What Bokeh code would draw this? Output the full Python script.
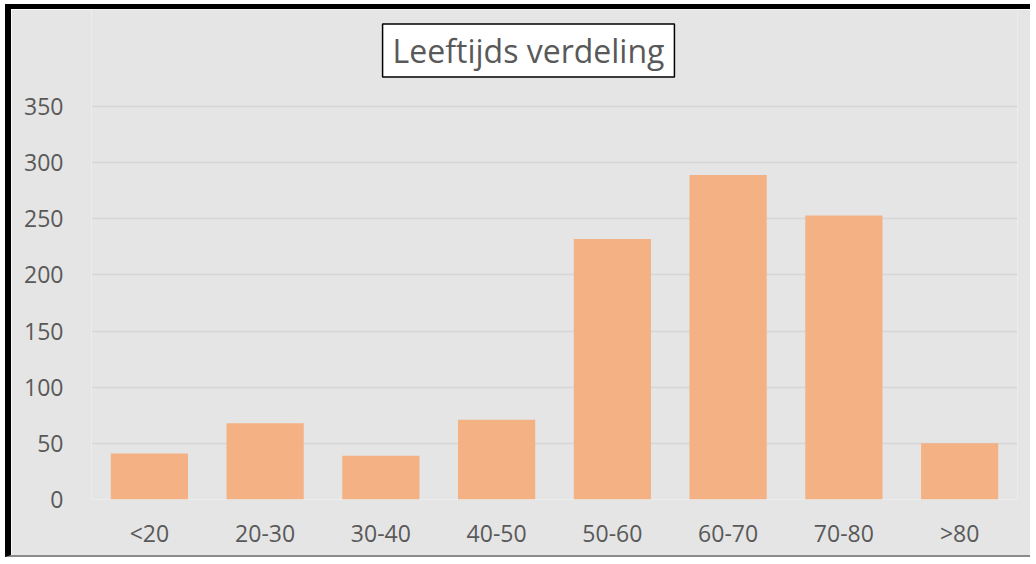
from bokeh.plotting import figure
from bokeh.models import ColumnDataSource, FixedTicker, Label, Range1d, FactorRange
from bokeh.embed import file_html
from bokeh.resources import INLINE

categories = ["<20", "20-30", "30-40", "40-50", "50-60", "60-70", "70-80", ">80"]
counts = [41, 68, 39, 71, 232, 289, 253, 50]
y_ticks = [0, 50, 100, 150, 200, 250, 300, 350]
title_text = "Leeftijds verdeling"

FONT = "Open Sans"
TEXT_COLOR = "#595959"
BG = "#e5e5e5"

source = ColumnDataSource(data=dict(cat=categories, count=counts))

p = figure(
    x_range=FactorRange(*categories, range_padding=0.0),
    y_range=Range1d(0, 436.4),
    width=1025, height=553,
    output_backend="svg", toolbar_location=None,
    min_border_left=80, min_border_right=19, min_border_top=0, min_border_bottom=63,
)
p.styles = {
    "margin-left": "5px", "margin-top": "4px",
    "border-left": "6px solid black", "border-top": "5px solid black",
    "border-bottom": "2px solid #8a8a8a",
}

p.vbar(x="cat", top="count", width=0.667, source=source, fill_color="#f4b183", line_color=None)

p.background_fill_color = BG
p.border_fill_color = BG
p.outline_line_color = None

p.xgrid.grid_line_color = None
p.ygrid.grid_line_color = "#d6d6d6"
p.ygrid.grid_line_width = 1.5
p.yaxis.ticker = FixedTicker(ticks=y_ticks)

for ax in (p.xaxis, p.yaxis):
    ax.axis_line_color = None
    ax.major_tick_line_color = None
    ax.minor_tick_line_color = None
    ax.major_label_text_font = FONT
    ax.major_label_text_font_size = "23px"
    ax.major_label_text_color = TEXT_COLOR
p.yaxis.major_label_standoff = 22
p.xaxis.major_label_standoff = 11

title = Label(
    x=437, y=449, x_units="screen", y_units="screen",
    text=title_text, text_font=FONT, text_font_size="32px", text_color=TEXT_COLOR,
    text_align="center", text_baseline="middle",
    background_fill_color="white", border_line_color="black", border_line_width=1.5,
    padding=dict(left=10, right=10, top=5, bottom=5),
)
p.add_layout(title)

open("out.html", "w").write(file_html(p, INLINE))
